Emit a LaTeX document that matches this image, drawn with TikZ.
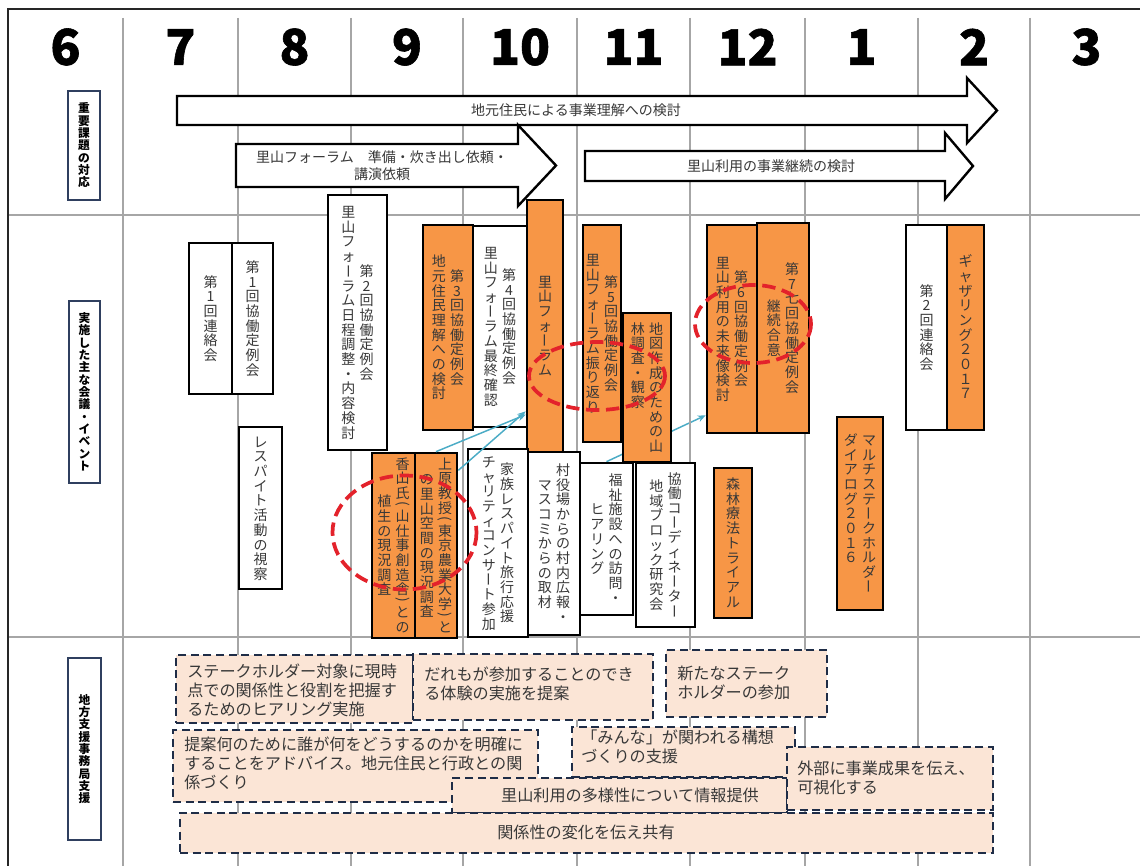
\documentclass[tikz,border=0pt]{standalone}
\usepackage{fontspec}
\setmainfont{Noto Sans CJK JP}
\newfontfamily\numfont{Noto Sans CJK JP}[FakeBold=1.2]
\usepackage{graphicx}
\usetikzlibrary{arrows.meta}
\pgfdeclarelayer{back}
\pgfdeclarelayer{bg}
\pgfsetlayers{back,bg,main}
\definecolor{orng}{HTML}{F79646}
\definecolor{peach}{HTML}{FBE5D6}
\definecolor{navy}{HTML}{1F2D47}
\definecolor{gridc}{HTML}{A6A6A6}
\definecolor{ared}{HTML}{E3222B}
\definecolor{ablue}{HTML}{4BACC6}
\definecolor{txt}{HTML}{383838}
\definecolor{framec}{HTML}{262626}
\definecolor{labc}{HTML}{2F3F5F}

\newcommand\vcpf{1.05}
\ExplSyntaxOn
\dim_new:N \l_vc_pitch_dim
\cs_new_protected:Npn \vc_slot:nn #1#2
  {
    \hbox_to_wd:nn { 1.05em }
      {
        \hss
        \vbox_to_ht:nn { #1 \l_vc_pitch_dim } { \vss \hbox:n {#2} \vss }
        \hss
      }
  }
\cs_new_protected:Npn \vc_char:n #1
  {
    \str_case:nnF {#1}
      {
        {ー}{ \vc_slot:nn {1} { \rotatebox[origin=c]{-90}{\rule[-0.12em]{0pt}{1em}ー} } }
        {（}{ \vc_slot:nn {0.55} { \rotatebox[origin=c]{-90}{(} } }
        {）}{ \vc_slot:nn {0.55} { \rotatebox[origin=c]{-90}{)} } }
      }
      { \vc_slot:nn {1} { \rule[-0.12em]{0pt}{1em} #1 } }
  }
\cs_new_protected:Npn \vc_body:n #1
  {
    \offinterlineskip
    \dim_set:Nn \l_vc_pitch_dim { \vcpf em }
    \tl_map_inline:nn {#1} { \vc_char:n {##1} }
  }
\NewDocumentCommand \vcol { m } { \vbox:n { \vc_body:n {#1} } }
\NewDocumentCommand \vcolT { m } { \vbox_top:n { \vc_body:n {#1} } }
\ExplSyntaxOff

\newcommand\vone[1]{$\vcenter{\vcol{#1}}$}
\newcommand\vtwo[2]{\hbox{$\vcenter{\vcol{#2}}$\hspace{2.5pt}$\vcenter{\vcol{#1}}$}}
\newcommand\vtwoT[2]{\hbox{\vcolT{#2}\hspace{2.5pt}\vcolT{#1}}}

\newcommand\vfs{\fontsize{10.5pt}{11pt}\selectfont}
\newcommand\afs{\fontsize{10.5pt}{12.8pt}\selectfont}
\newcommand\dfs{\fontsize{12.1pt}{14.3pt}\selectfont}
\newcommand\lfs{\fontsize{8.8pt}{9.5pt}\selectfont\bfseries}
\newcommand\nfs{\numfont\fontsize{37pt}{40pt}\selectfont\bfseries}

\newcommand\bx[7]{%
  \pgfmathsetmacro\bxcx{(#3+#4)/2}%
  \pgfmathsetmacro\bxcy{(#5+#6)/2}%
  \pgfmathsetmacro\bxw{#4-#3}%
  \pgfmathsetmacro\bxh{#6-#5}%
  \node[#2, minimum width=\bxw*0.75pt, minimum height=\bxh*0.75pt] (#1) at (\bxcx,\bxcy) {#7};%
}

\tikzset{
  gridl/.style={gridc, line width=1.1pt},
  frameline/.style={framec, line width=2.2pt},
  num/.style={font=\nfs, text=black, inner sep=0pt},
  rowlab/.style={draw=labc, line width=1.5pt, fill=white, inner sep=0pt, font=\lfs, text=black},
  wbox/.style={draw=black, line width=2pt, fill=white, inner sep=0pt, text=txt, font=\vfs},
  obox/.style={wbox, fill=orng},
  barrow/.style={draw=black, line width=1.8pt, fill=white, line join=miter},
  atext/.style={font=\afs, text=txt, inner sep=0pt},
  link/.style={ablue, line width=1.1pt, -{Stealth[length=6pt,width=5pt]}},
  ring/.style={ared, line width=2.8pt, dash pattern=on 10pt off 5pt},
  dbox/.style={draw=navy, fill=peach, line width=2pt, dash pattern=on 6pt off 3.5pt, inner sep=0pt},
  dtext/.style={font=\dfs, text=txt, align=left, inner sep=0pt, anchor=west},
}

\begin{document}
\begin{tikzpicture}[x=0.75pt,y=-0.75pt]
\useasboundingbox (0,0) rectangle (1140,866);
\begin{pgfonlayer}{back}
\fill[white] (0,0) rectangle (1140,866);
\end{pgfonlayer}

% grid and frame
\foreach \gx in {123,238,351,463,577,690,805,918,1030}
  \draw[gridl] (\gx,18) -- (\gx,866);
\draw[gridl] (8,215) -- (1140,215);
\draw[gridl] (8,637) -- (1140,637);
\draw[frameline] (8,866) -- (8,9) -- (1140,9);

% month numbers
\foreach \mn/\mx in {6/65.5,7/180.5,8/294.5,9/407,10/520,11/633.5,12/747.5,1/861.5,2/974,3/1086.5}
  \node[num] (m\mn) at (\mx,47) {\mn};

% row labels
\bx{lab1}{rowlab}{68}{100}{91}{200}{\vone{重要課題の対応}}
\bx{lab2}{rowlab}{69}{100}{301}{483}{\vone{実施した主な会議・イベント}}
\bx{lab3}{rowlab}{68}{101}{658}{840}{\vone{地方支援事務局支援}}

% block arrows
\draw[barrow] (177,96) -- (967,96) -- (967,78) -- (997,110.5) -- (967,143) -- (967,125) -- (177,125) -- cycle;
\node[atext] (t1) at (576,110.5) {地元住民による事業理解への検討};
\draw[barrow] (236,144) -- (518,144) -- (518,125) -- (556,165.5) -- (518,206) -- (518,187) -- (236,187) -- cycle;
\node[atext, align=center] (t2) at (382,165.5) {里山フォーラム　準備・炊き出し依頼・\\講演依頼};
\draw[barrow] (585,151) -- (945,151) -- (945,133) -- (973,166) -- (945,199) -- (945,181) -- (585,181) -- cycle;
\node[atext] (t3) at (771,166) {里山利用の事業継続の検討};

% event boxes
\bx{b1r}{wbox}{189}{232}{243}{394}{\vone{第1回連絡会}}
\bx{b1k}{wbox}{232}{273}{243}{394}{\vone{第1回協働定例会}}
\bx{resp}{wbox}{239}{282}{427}{589}{\vone{レスパイト活動の視察}}
\bx{b2}{wbox}{328}{387}{195}{450}{\vtwo{第2回協働定例会}{里山フォーラム日程調整・内容検討}}
\bx{b3}{obox}{423}{473}{225}{430}{\vtwo{第3回協働定例会}{地元住民理解への検討}}
\bx{b4}{wbox}{473}{527}{226}{427}{\vtwo{第4回協働定例会}{里山フォーラム最終確認}}
\bx{forum}{obox}{527}{563}{200}{452}{\vone{里山フォーラム}}
\bx{kayama}{obox}{372}{415}{453}{638}{\vtwo{香山氏（山仕事創造舎）との}{植生の現況調査}}
\bx{uehara}{obox}{415}{457}{453}{638}{\vtwo{上原教授（東京農業大学）と}{の里山空間の現況調査}}
\bx{kazoku}{wbox}{468}{528}{449}{637}{\vtwo{家族レスパイト旅行応援}{チャリティコンサート参加}}
\bx{mura}{wbox}{528}{580}{452}{635}{\vtwo{村役場からの村内広報・}{マスコミからの取材}}
\bx{b5}{obox}{583}{621}{225}{442}{\vtwo{第5回協働定例会}{里山フォーラム振り返り}}
\bx{fukushi}{wbox}{580}{633}{463}{615}{\vtwo{福祉施設への訪問・}{ヒアリング}}
\bx{b6}{obox}{707}{757}{225}{433}{\vtwo{第6回協働定例会}{里山利用の未来像検討}}
\bx{b7}{obox}{757}{809}{223}{433}{\vtwo{第7七回協働定例会}{継続合意}}
\bx{chizu}{obox}{623}{671}{313}{462}{\vtwoT{地図作成のための山}{林調査・観察}}
\bx{kyodo}{wbox}{636}{695}{463}{627}{\vtwo{協働コーディネーター}{地域ブロック研究会}}
\bx{shinrin}{obox}{714}{752}{468}{618}{\vone{森林療法トライアル}}
\bx{multi}{obox}{837}{883}{417}{610}{\vtwoT{マルチステークホルダー}{ダイアログ２０１６}}
\bx{r2}{wbox}{906}{947}{225}{430}{\vone{第2回連絡会}}
\bx{gather}{obox}{947}{984}{225}{430}{\vone{ギャザリング２０１７}}

% blue links
\begin{pgfonlayer}{bg}
\draw[link] (fukushi.north) -- ([yshift=14.25pt]b6.south west);
\end{pgfonlayer}
\draw[link] (uehara.north) -- ([yshift=29pt]forum.south west);
\draw[link] ([yshift=-14pt]uehara.north east) -- ([yshift=31.5pt]forum.south west);

% red dashed rings
\draw[ring] (404.5,532.5) ellipse [x radius=72, y radius=57];
\draw[ring] (597,376) ellipse [x radius=68, y radius=34];
\draw[ring] (753,324) ellipse [x radius=58, y radius=39];

% support boxes
\bx{sA}{dbox}{176}{413}{655}{723}{}
\bx{sB}{dbox}{413}{653}{654}{720}{}
\bx{sC}{dbox}{666}{827}{650}{717}{}
\bx{sD}{dbox}{173}{538}{730}{802}{}
\bx{sF}{dbox}{572}{795}{727}{777}{}
\bx{sE}{dbox}{452}{787}{778}{813}{}
\bx{sG}{dbox}{787}{993}{747}{810}{}
\bx{sH}{dbox}{180}{993}{813}{853}{}
\node[dtext] (tA) at (187,690) {ステークホルダー対象に現時\\点での関係性と役割を把握す\\るためのヒアリング実施};
\node[dtext] (tB) at (424,684) {だれもが参加することのでき\\る体験の実施を提案};
\node[dtext] (tC) at (677,683) {新たなステーク\\ホルダーの参加};
\node[dtext] (tD) at (184,763.5) {提案何のために誰が何をどうするのかを明確に\\することをアドバイス。地元住民と行政との関\\係づくり};
\node[dtext] (tF) at (581,747) {「みんな」が関われる構想\\づくりの支援};
\node[dtext, anchor=center] (tE) at (630,795.5) {里山利用の多様性について情報提供};
\node[dtext] (tG) at (797,777.5) {外部に事業成果を伝え、\\可視化する};
\node[dtext, anchor=center] (tH) at (586,832) {関係性の変化を伝え共有};
\end{tikzpicture}
\end{document}
